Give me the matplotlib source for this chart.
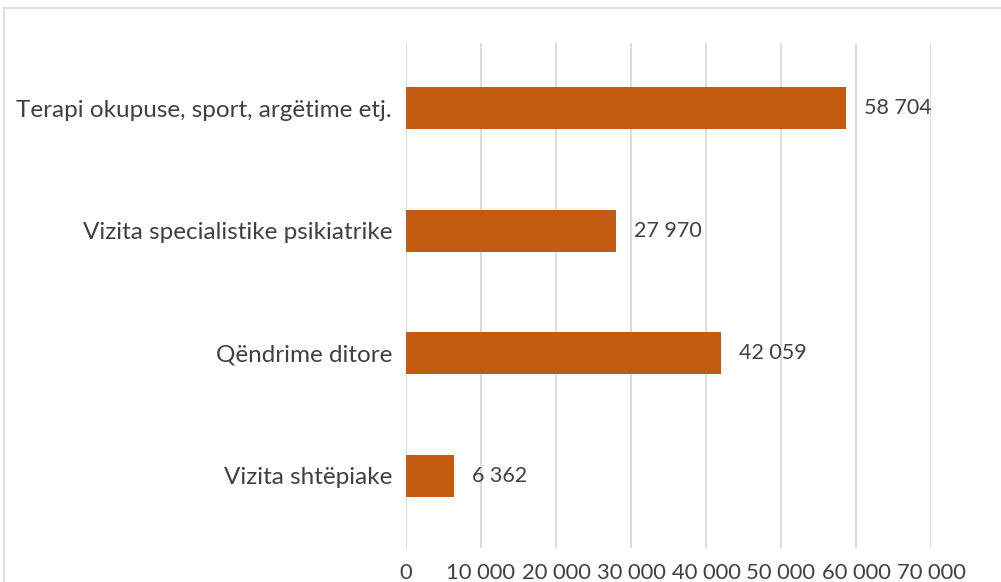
#!/usr/bin/env python3

import matplotlib
matplotlib.use("Agg")
import matplotlib.pyplot as plt
from matplotlib.lines import Line2D


CATEGORIES = [
    "Terapi okupuse, sport, argëtime etj.",
    "Vizita specialistike psikiatrike",
    "Qëndrime ditore",
    "Vizita shtëpiake",
]
VALUES = [58704, 27970, 42059, 6362]
X_TICKS = [0, 10000, 20000, 30000, 40000, 50000, 60000, 70000]

FIGURE_WIDTH_PX = 1001
FIGURE_HEIGHT_PX = 582
FIGURE_DPI = 100
BAR_COLOR = "#C55A11"
TEXT_COLOR = "#404040"
GRID_COLOR = "#D9D9D9"
FONT = ["Lato", "DejaVu Sans"]


def spaced(value: int) -> str:
    return f"{value:,}".replace(",", " ")


def main() -> None:
    plt.rcParams["font.family"] = FONT
    fig = plt.figure(
        figsize=(FIGURE_WIDTH_PX / FIGURE_DPI, FIGURE_HEIGHT_PX / FIGURE_DPI),
        dpi=FIGURE_DPI,
    )
    ax = fig.add_axes([
        406 / FIGURE_WIDTH_PX,
        (FIGURE_HEIGHT_PX - 548) / FIGURE_HEIGHT_PX,
        525 / FIGURE_WIDTH_PX,
        505 / FIGURE_HEIGHT_PX,
    ])

    positions = list(range(len(CATEGORIES)))
    ax.barh(positions, VALUES, height=0.34, color=BAR_COLOR, zorder=3)
    for pos, value in zip(positions, VALUES):
        ax.annotate(
            spaced(value),
            xy=(value, pos),
            xytext=(13, 0),
            textcoords="offset points",
            va="center",
            ha="left",
            fontsize=15.5,
            color=TEXT_COLOR,
        )

    ax.set_xlim(0, 70000)
    ax.set_ylim(3.587, -0.53)
    ax.set_xticks(X_TICKS)
    ax.set_xticklabels([spaced(t) for t in X_TICKS])
    ax.set_yticks(positions)
    ax.set_yticklabels(CATEGORIES)
    ax.tick_params(axis="x", length=0, pad=11, labelsize=15.8, labelcolor=TEXT_COLOR)
    ax.tick_params(axis="y", length=0, pad=10, labelsize=17.5, labelcolor=TEXT_COLOR)
    ax.grid(axis="x", color=GRID_COLOR, linewidth=1.3, zorder=0)
    for spine in ax.spines.values():
        spine.set_visible(False)

    # outer chart border, cut off on the right and bottom
    top = 1 - 7.5 / FIGURE_HEIGHT_PX
    left = 3.5 / FIGURE_WIDTH_PX
    fig.add_artist(Line2D([left, 1], [top, top], color=GRID_COLOR, linewidth=1.2))
    fig.add_artist(Line2D([left, left], [0, top], color=GRID_COLOR, linewidth=1.2))

    fig.savefig("out.png", dpi=FIGURE_DPI)


if __name__ == "__main__":
    main()
